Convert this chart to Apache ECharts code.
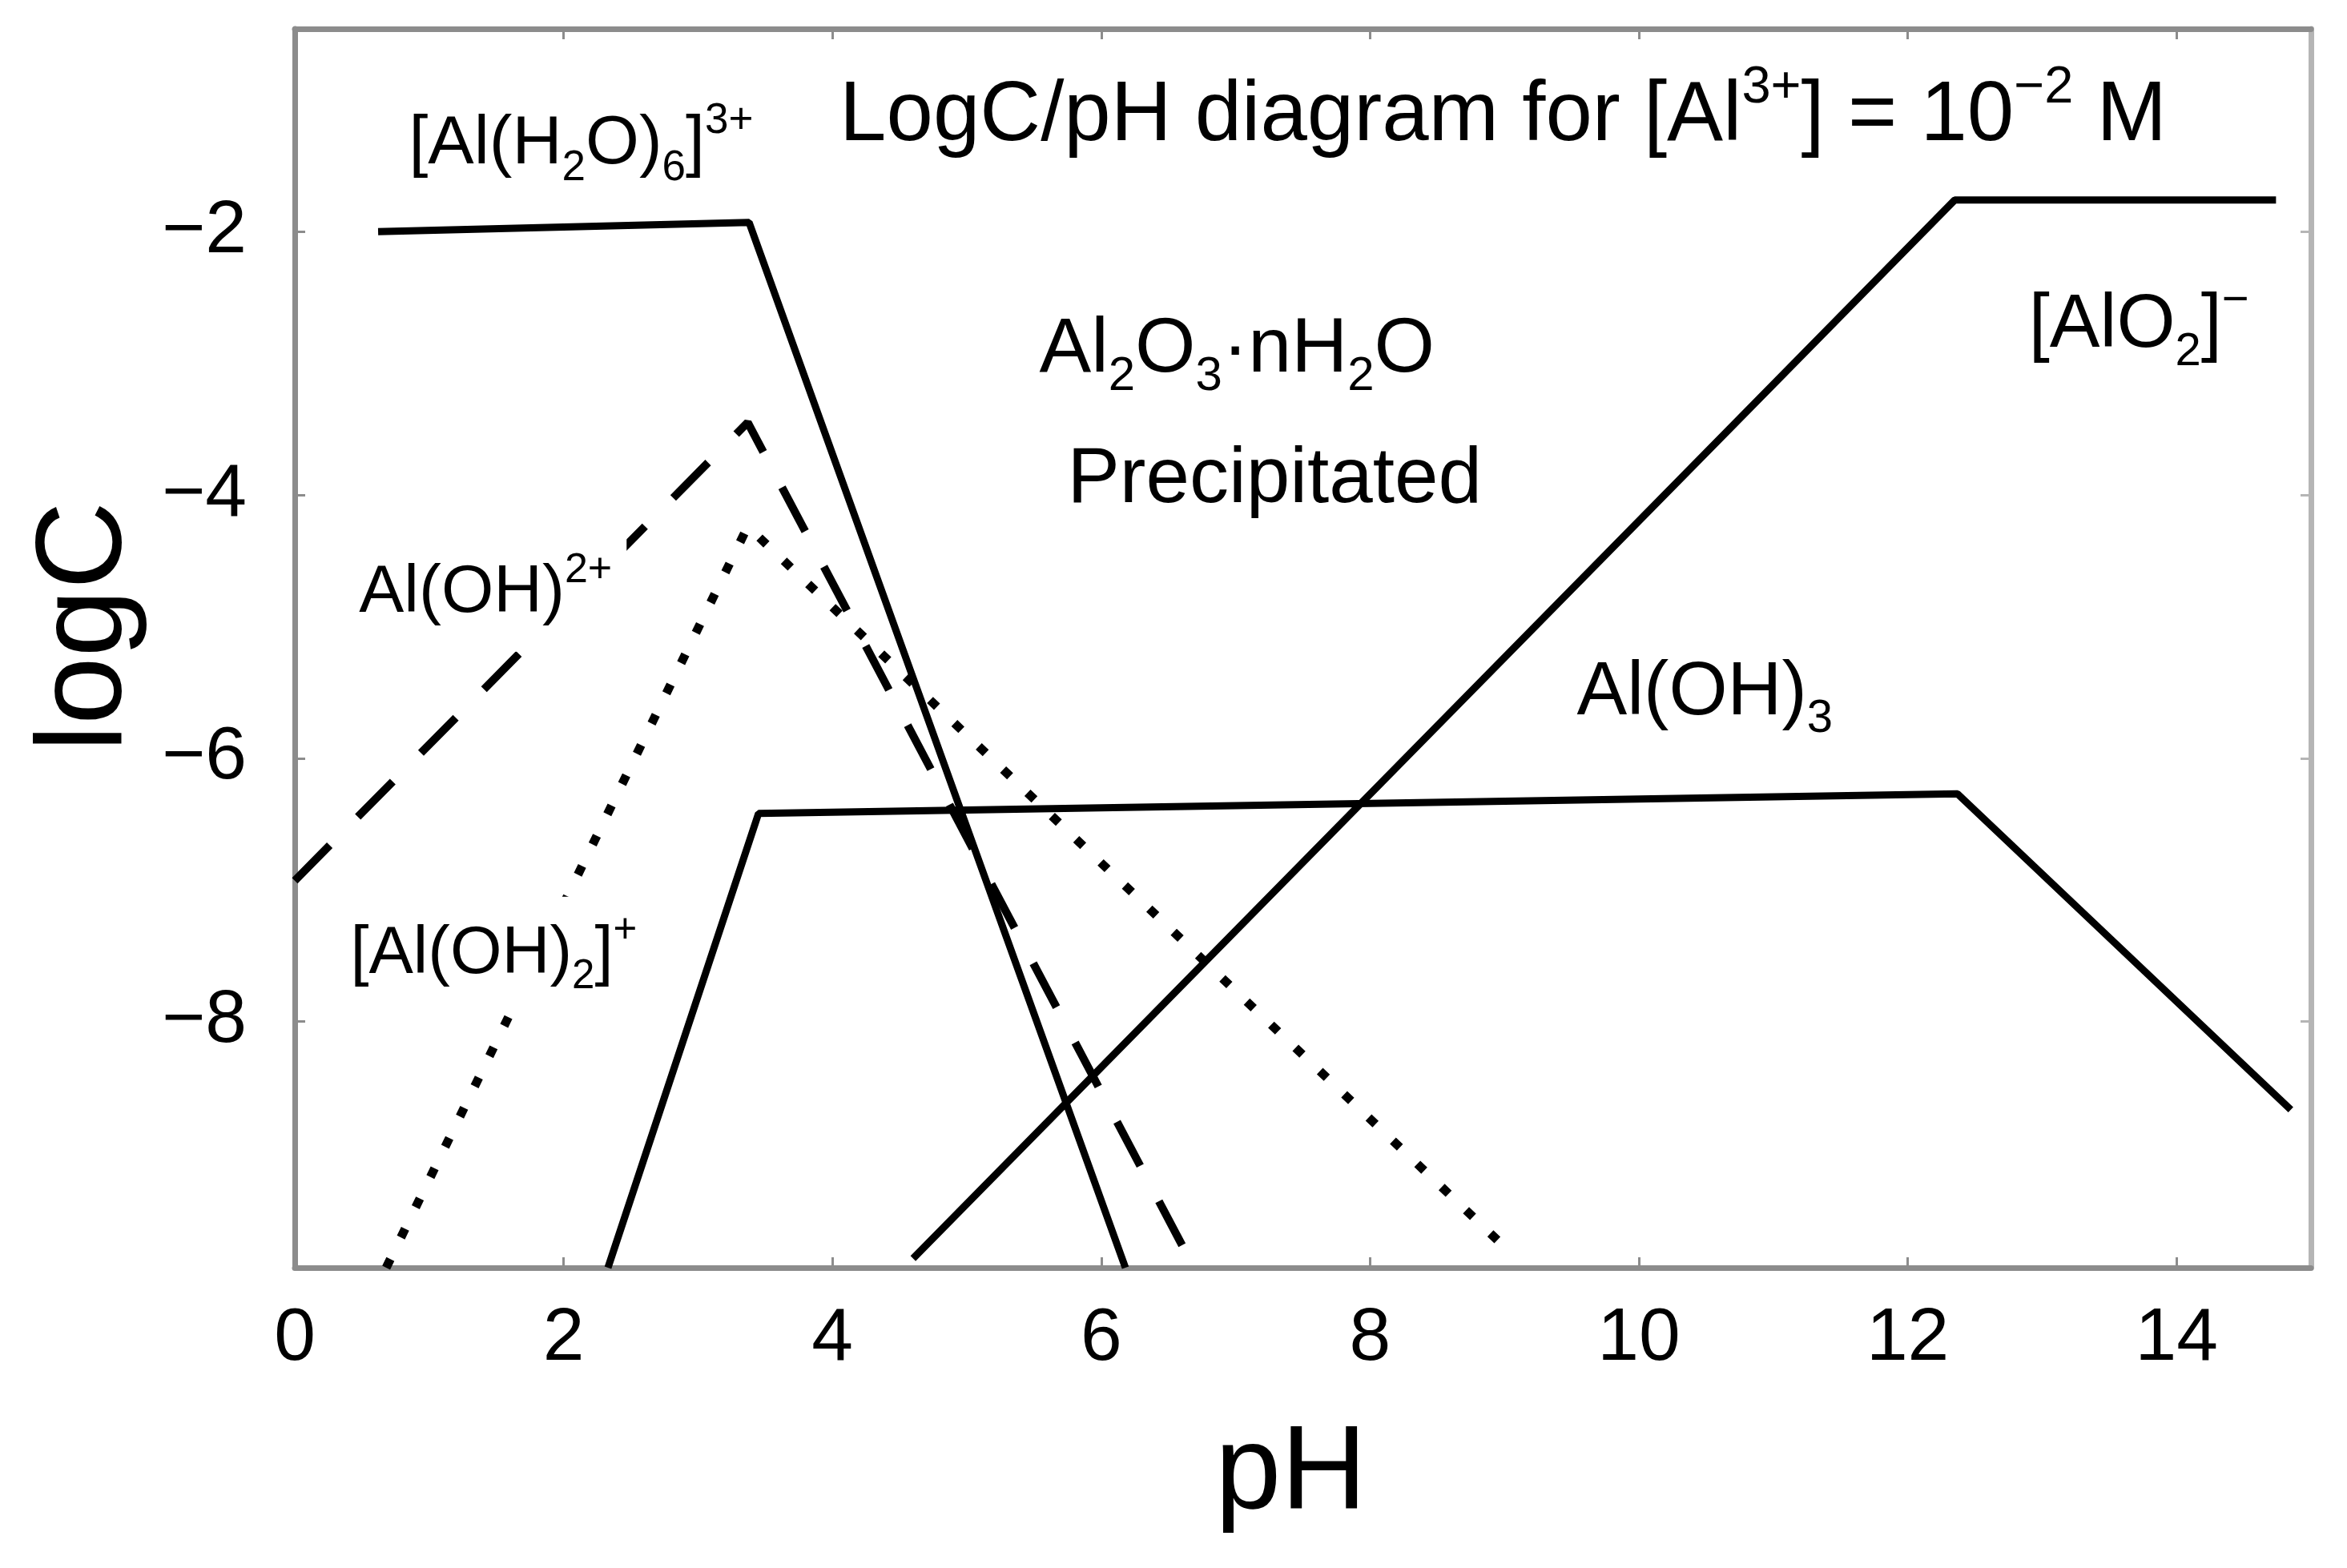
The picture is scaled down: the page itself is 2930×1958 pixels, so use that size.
<!DOCTYPE html>
<html>
<head>
<meta charset="utf-8">
<script src="https://cdn.jsdelivr.net/npm/echarts@6/dist/echarts.min.js"></script>
<style>
html,body{margin:0;padding:0;background:#fff;}
#chart{width:2930px;height:1958px;}
</style>
</head>
<body>
<div id="chart"></div>
<script>
// ---- data ----
const xTicks = [0, 2, 4, 6, 8, 10, 12, 14];
const yTicks = [-8, -6, -4, -2];

// [Al(H2O)6]3+  (solid)
const alH2O6 = [[0.62, -2.0], [3.38, -1.93], [6.18, -9.87]];
// Al(OH)2+ (dashed)
const alOH2plus = [[0, -6.93], [3.37, -3.45], [6.69, -9.87]];
// [Al(OH)2]+ (dotted)
const alOH2 = [[0.68, -9.87], [3.37, -4.24], [9.07, -9.78]];
// Al(OH)3 (solid)
const alOH3 = [[2.33, -9.87], [3.45, -6.42], [12.37, -6.27], [14.85, -8.67]];
// [AlO2]- (solid)
const alO2 = [[4.6, -9.8], [12.35, -1.76], [14.74, -1.76]];

// text labels (rich-text markup) and where they sit in data space
const labelTexts = {
  title: '{n|LogC/pH diagram for [Al}{sup|3+}{n|] = 10}{sup|\u22122}{n| M}',
  alH2O6: '{n|[Al(H}{sub|2}{n|O)}{sub|6}{n|]}{sup|3+}',
  alOH2plus: '{n|Al(OH)}{sup|2+}',
  alOH2: '{n|[Al(OH)}{sub|2}{n|]}{sup|+}',
  oxide: '{n|Al}{sub|2}{n|O}{sub|3}{n|\u00b7nH}{sub|2}{n|O}',
  precip: '{n|Precipitated}',
  alOH3: '{n|Al(OH)}{sub|3}',
  alO2: '{n|[AlO}{sub|2}{n|]}{sup|\u2212}'
};
const labelAnchors = [
  {key: 'title',     at: [8.99, -1.13], size: 105, bg: false},
  {key: 'alH2O6',    at: [2.13, -1.34], size: 86,  bg: false},
  {key: 'alOH2plus', at: [1.42, -4.75], size: 84,  bg: true},
  {key: 'alOH2',     at: [1.48, -7.49], size: 83,  bg: true},
  {key: 'oxide',     at: [7.01, -2.90], size: 97,  bg: false},
  {key: 'precip',    at: [7.29, -3.89], size: 98,  bg: false},
  {key: 'alOH3',     at: [10.49, -5.51], size: 94, bg: false},
  {key: 'alO2',      at: [13.72, -2.72], size: 94, bg: false}
];

// ---- styling ----
const FONT = '"Liberation Sans", Arial, sans-serif';
const AXIS_COLOR = '#8c8c8c';

function richFor(F) {
  const L = Math.round(F * 1.3);
  const s = Math.round(F * 0.62);
  return {
    n:   {fontSize: F, lineHeight: L, fontFamily: FONT, color: '#000'},
    sub: {fontSize: s, lineHeight: Math.round(L - 0.66 * F), verticalAlign: 'bottom', fontFamily: FONT, color: '#000'},
    sup: {fontSize: s, lineHeight: Math.round(L - 0.36 * F), verticalAlign: 'top', fontFamily: FONT, color: '#000'}
  };
}

const minusFmt = v => String(v).replace('-', '\u2212');

function baseAxis(extra) {
  return Object.assign({
    type: 'value',
    splitLine: {show: false},
    axisLine: {show: true, onZero: false, lineStyle: {color: AXIS_COLOR, width: 7}},
    axisTick: {show: true, inside: true, length: 13, lineStyle: {color: AXIS_COLOR, width: 3}}
  }, extra);
}

const chart = echarts.init(document.getElementById('chart'), null, {renderer: 'canvas'});

const lineSeries = (name, data, lineStyle) => ({
  name, type: 'line', data, symbol: 'none', showSymbol: false, silent: true,
  clip: true, z: 2, lineStyle: Object.assign({color: '#000'}, lineStyle)
});

const option = {
  animation: false,
  backgroundColor: '#fff',
  grid: {left: 368, right: 45, top: 36, bottom: 375},
  xAxis: [
    baseAxis({
      min: 0, max: 15, position: 'bottom',
      axisTick: {show: true, inside: true, length: 13, customValues: xTicks, lineStyle: {color: AXIS_COLOR, width: 3}},
      axisLabel: {show: true, customValues: xTicks, fontSize: 93, fontFamily: FONT, color: '#000', margin: 43, formatter: minusFmt},
      name: 'pH', nameLocation: 'middle', nameGap: 185,
      nameTextStyle: {fontSize: 148, fontFamily: FONT, color: '#000', padding: [0, 30, 0, 0]}
    }),
    baseAxis({
      min: 0, max: 15, position: 'top',
      axisTick: {show: true, inside: true, length: 13, customValues: xTicks, lineStyle: {color: AXIS_COLOR, width: 3}},
      axisLabel: {show: false}
    })
  ],
  yAxis: [
    baseAxis({
      min: -9.87, max: -0.46, position: 'left',
      axisTick: {show: true, inside: true, length: 13, customValues: yTicks, lineStyle: {color: AXIS_COLOR, width: 3}},
      axisLabel: {show: true, customValues: yTicks, fontSize: 93, fontFamily: FONT, color: '#000', margin: 60, formatter: minusFmt},
      name: 'logC', nameLocation: 'middle', nameRotate: 90, nameGap: 183,
      nameTextStyle: {fontSize: 152, fontFamily: FONT, color: '#000', padding: [0, 0, 0, 54]}
    }),
    baseAxis({
      min: -9.87, max: -0.46, position: 'right',
      axisTick: {show: true, inside: true, length: 13, customValues: yTicks, lineStyle: {color: '#b5b5b5', width: 3}},
      axisLine: {show: true, onZero: false, lineStyle: {color: '#b5b5b5', width: 7}},
      axisLabel: {show: false}
    })
  ],
  series: [
    lineSeries('[Al(H2O)6]3+', alH2O6, {width: 9}),
    lineSeries('Al(OH)2+', alOH2plus, {width: 10, type: [62, 50], cap: 'butt'}),
    lineSeries('[Al(OH)2]+', alOH2, {width: 11, type: [12, 30], cap: 'butt'}),
    lineSeries('Al(OH)3', alOH3, {width: 9}),
    lineSeries('[AlO2]-', alO2, {width: 9}),
    {
      name: 'labels', type: 'scatter', z: 10, silent: true,
      symbolSize: 1, itemStyle: {color: 'rgba(0,0,0,0)', opacity: 1},
      data: labelAnchors.map(a => ({
        value: a.at,
        label: {
          show: true, position: 'inside', formatter: labelTexts[a.key],
          color: '#000', opacity: 1, textBorderWidth: 0, textBorderColor: 'transparent',
          rich: richFor(a.size),
          backgroundColor: a.bg ? '#fff' : 'transparent',
          padding: a.bg ? [18, 18, 18, 18] : 0
        }
      }))
    }
  ]
};
chart.setOption(option);
</script>
</body>
</html>
